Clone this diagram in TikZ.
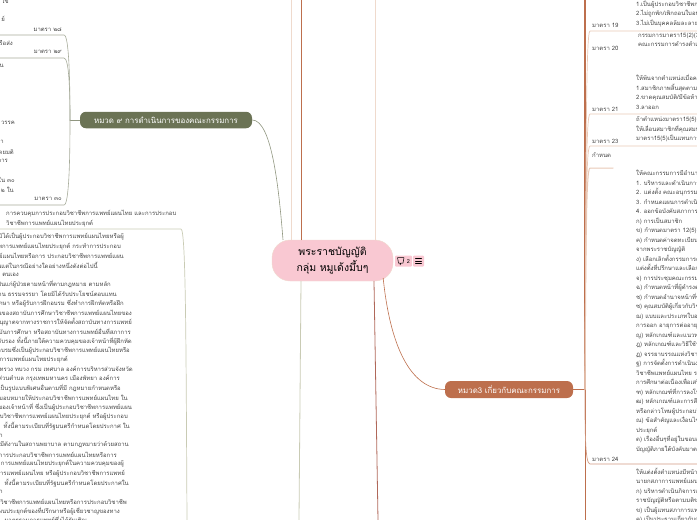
\documentclass[tikz,border=0pt]{standalone}
\usepackage{fontspec}
\setmainfont[Script=Thai]{Loma}
\definecolor{rootpink}{HTML}{F9C8D2}
\definecolor{greenbox}{HTML}{6B7355}
\definecolor{redbox}{HTML}{BD6F4D}
\definecolor{paletan}{HTML}{EFDACD}
\definecolor{paleolive}{HTML}{C9CBB4}
\definecolor{darkred}{HTML}{B0685A}
\definecolor{paleline}{HTML}{E8C8B6}
\definecolor{bodytext}{HTML}{444444}
\tikzset{
  hmuad/.style={rounded corners=6pt, text=white, inner sep=0pt, font=\fontsize{7.9}{9}\selectfont},
  lefttext/.style={anchor=east, inner sep=0pt, text=bodytext, font=\fontsize{5.95}{7}\selectfont},
  blocktext/.style={anchor=north west, inner sep=0pt, align=left, text=bodytext, font=\fontsize{5.95}{9.5}\selectfont},
  tagbox/.style={fill=rootpink, rounded corners=1pt, inner sep=0pt},
  greenline/.style={draw=greenbox!75, line width=.6pt},
  redline/.style={draw=redbox, line width=.6pt},
  subline/.style={draw=paleline, line width=.7pt}
}
\begin{document}
\begin{tikzpicture}[x=1pt, y=-1pt, line cap=round, line join=round]
	\useasboundingbox (0,0) rectangle (697,520);
	\clip (0,0) rectangle (697,520);
	% main nodes
	\node[fill=rootpink, draw=paletan, rounded corners=18pt, minimum width=121pt, minimum height=41pt, inner sep=0pt, align=center, font=\fontsize{10.5}{16}\selectfont] (root) at (332.5,260.5) {พระราชบัญญัติ\\กลุ่ม หมูเด้งมึ้บๆ};
	\node[hmuad, fill=greenbox, minimum width=172pt, minimum height=16.5pt] (hm9) at (166,120) {หมวด ๙ การดำเนินการของคณะกรรมการ};
	\node[hmuad, fill=redbox, minimum width=128pt, minimum height=17pt] (hm3) at (509,389.5) {หมวด3 เกี่ยวกับคณะกรรมการ};
	\node[tagbox, minimum width=17pt, minimum height=11pt] (tagc) at (403.5,261) {};
	\node[tagbox, minimum width=11pt, minimum height=11pt] (tagm) at (418.5,261) {};
	\node[inner sep=0pt, font=\fontsize{5.5}{6}\selectfont] (tagn) at (408.5,261.3) {2};
	\draw[line width=.5pt] (397.5,257.5) -- (404,257.5) -- (403,263) -- (401,263) -- (400,265) -- (400,263) -- (398.5,263) -- cycle;
	\draw[line width=.6pt] (415.5,258.5) -- (421.5,258.5) (415.5,261) -- (421.5,261) (415.5,263.5) -- (421.5,263.5);
	% connectors of the root
	\coordinate (top1) at (291,0);
	\coordinate (top2) at (301,0);
	\coordinate (top3) at (375,0);
	\coordinate (bot1) at (299,520);
	\coordinate (bot2) at (378,520);
	\draw[greenline] (hm9.east) .. controls (272,120) and (279,190) .. ([xshift=-49.5pt]root.north);
	\draw[redline] ([xshift=-10pt,yshift=3pt]root.south east) .. controls (390,345) and (410,389) .. (hm3.west);
	\draw[draw=paletan, line width=.8pt] (top1) -- (top1 |- root.north) (top3) -- (top3 |- root.north);
	\draw[redline] (top2) -- (top2 |- root.north);
	\draw[draw=paleolive, line width=.8pt] ([xshift=-31.5pt]root.south) -- (bot1);
	\draw[draw=darkred, line width=.8pt] ([xshift=41.5pt]root.south) -- (bot2);
	% left side
	\coordinate (lhub) at (70,120);
	\draw[greenline] (hm9.west) -- (lhub);
	\draw[greenline, draw=greenbox!60] (lhub) .. controls (70,80) and (69,35) .. (64,35) -- (0,35);
	\draw[greenline, draw=greenbox!60] (lhub) .. controls (70,90) and (69,58) .. (64,58) -- (0,58);
	\draw[greenline, draw=greenbox!60] (lhub) .. controls (70,160) and (69,205) .. (64,205) -- (0,205);
	\draw[draw=paleolive, line width=.7pt] (187,520) .. controls (186,350) and (186,229) .. (181,229) -- (0,229);
	\foreach \xe/\yl/\txt [count=\i] in {9/1/ไข่,5/19/ย์,62/30/มาตรา ๒๘,13/43/รือส่ง,62/52/มาตรา ๒๙,4/66/าน,15/123/วรรค,4/142/า,14/152/โดยมติ,8/161/การ,15/180/ใน ๓๐,14/190/๒ ใน,62/199/มาตรา ๓๐}
		\node[lefttext] (up\i) at (\xe,\yl) {\txt};
	\node[blocktext, font=\fontsize{5.95}{10}\selectfont] (ctl) at (6,209.5) {การควบคุมการประกอบวิชาชีพการแพทย์แผนไทย และการประกอบ\\วิชาชีพการแพทย์แผนไทยประยุกต์};
	\foreach \xe/\txt [count=\i] in {
		124/ผู้ใดมิได้เป็นผู้ประกอบวิชาชีพการแพทย์แผนไทยหรือผู้,
		121/ชีพการแพทย์แผนไทยประยุกต์ กระทำการประกอบ,
		124/แพทย์แผนไทยหรือการ ประกอบวิชาชีพการแพทย์แผน,
		98/เว้นแต่ในกรณีอย่างใดอย่างหนึ่งดังต่อไปนี้,
		19/ตนเอง,
		111/เป็นแก่ผู้ป่วยตามหน้าที่ตามกฎหมาย ตามหลัก,
		117/ผ่าน ธรรมจรรยา โดยมิได้รับประโยชน์ตอบแทน,
		124/นศึกษา หรือผู้รับการฝึกอบรม ซึ่งทำการฝึกหัดหรือฝึก,
		132/งานของสถาบันการศึกษาวิชาชีพการแพทย์แผนไทยของ,
		132/อนุญาตจากทางราชการให้จัดตั้งสถาบันทางการแพทย์,
		131/สถาบันการศึกษา หรือสถาบันทางการแพทย์อื่นที่สภาการ,
		132/รับรอง ทั้งนี้ภายใต้ความควบคุมของเจ้าหน้าที่ผู้ฝึกหัด,
		130/อบรมซึ่งเป็นผู้ประกอบวิชาชีพการแพทย์แผนไทยหรือ,
		68/การแพทย์แผนไทยประยุกต์,
		133/กระทรวง ทบวง กรม เทศบาล องค์การบริหารส่วนจังหวัด,
		120/ส่วนตำบล กรุงเทพมหานคร เมืองพัทยา องค์การ,
		121/ที่เป็นรูปแบบพิเศษอื่นตามที่มี กฎหมายกำหนดหรือ,
		128/มอบหมายให้ประกอบวิชาชีพการแพทย์แผนไทย ใน,
		132/ของเจ้าหน้าที่ ซึ่งเป็นผู้ประกอบวิชาชีพการแพทย์แผน,
		128/ระกอบวิชาชีพการแพทย์แผนไทยประยุกต์ หรือผู้ประกอบ,
		130/ ทั้งนี้ตามระเบียบที่รัฐมนตรีกำหนดโดยประกาศ ใน,
		3/า,
		129/ผู้มีตังานในสถานพยาบาล ตามกฎหมายว่าด้วยสถาน,
		117/ทำการประกอบวิชาชีพการแพทย์แผนไทยหรือการ,
		124/การแพทย์แผนไทยประยุกต์ในความควบคุมของผู้,
		125/การแพทย์แผนไทย หรือผู้ประกอบวิชาชีพการแพทย์,
		129/ ทั้งนี้ตามระเบียบที่รัฐมนตรีกำหนดโดยประกาศใน,
		3/า,
		127/ระกอบวิชาชีพการแพทย์แผนไทยหรือการประกอบวิชาชีพ,
		120/แผนประยุกต์ของที่ปรึกษาหรือผู้เชี่ยวชาญของทาง,
		87/มาตรฐานการแพทย์ซึ่งได้รับเชิญ}
		\node[lefttext] (bd\i) at (\xe,{237+9.45*(\i-1)}) {\txt};
	% right side
	\coordinate (rhub) at (585,389.5);
	\draw[redline] (hm3.east) -- (rhub);
	\draw[redline, line width=1.2pt] (rhub) -- (585,0);
	\draw[redline, line width=.9pt] (rhub) -- (585,520);
	\draw[subline] (rhub) .. controls (586,150) and (586,31) .. (590,31) -- (697,31);
	\draw[subline] (rhub) .. controls (586,200) and (586,114) .. (590,114) -- (697,114);
	\draw[subline] (rhub) .. controls (586,220) and (586,146) .. (590,146) -- (697,146);
	\draw[subline, line width=1pt] (rhub) .. controls (586,250) and (586,168) .. (590,168) -- (613,168);
	\draw[subline, draw=redbox!70] (rhub) .. controls (585,430) and (585,464) .. (590,464) -- (697,464);
	\foreach \yl/\txt [count=\i] in {25/มาตรา 19,48/มาตรา 20,109/มาตรา 21,141/มาตรา 23,155/กำหนด,459/มาตรา 24}
		\node[lefttext, anchor=west] (mt\i) at (592,\yl) {\txt};
	\node[blocktext] (b19) at (636,0.5) {1.เป็นผู้ประกอบวิชาชีพการแพทย์\\2.ไม่ถูกพัก/เพิกถอนใบอนุญาตฯ\\3.ไม่เป็นบุคคลล้มละลายหรือไร้}; 
	\node[blocktext] (b20) at (638,32.5) {กรรมการมาตรา15(2)(3)(4)\\คณะกรรมการดำรงตำแหน่งไม่เกิน};
	\node[blocktext] (b21) at (636,74.5) {ให้พ้นจากตำแหน่งเมื่อครบวาระ\\1.สมาชิกภาพสิ้นสุดตามมาตรา\\2.ขาดคุณสมบัติ/มีข้อห้ามตาม\\3.ลาออก};
	\node[blocktext] (b23) at (636,116.5) {ถ้าตำแหน่งมาตรา15(5)ว่างลง\\ให้เลื่อนสมาชิกที่คุณสมบัติครบ\\มาตรา15(5)เป็นแทนการเลือกตั้ง};
	\node[blocktext] (b24) at (636,169.5) {ให้คณะกรรมการมีอำนาจหน้าที่\\1. บริหารและดำเนินการตามพระ\\2. แต่งตั้ง คณะอนุกรรมการเพื่อ\\3. กำหนดแผนการดำเนินงานของ\\4. ออกข้อบังคับสภาการแพทย์\\ก) การเป็นสมาชิก\\ข) กำหนดมาตรา 12(5) ตาม\\ค) กำหนดค่าจดทะเบียนและค่า\\จากพระราชบัญญัติ\\ง) เลือกเลิกตั้งกรรมการตามมาตรา\\แต่งตั้งที่ปรึกษาและเลือกอนุ\\จ) การประชุมคณะกรรมการและ\\ฉ) กำหนดหน้าที่ผู้ดำรงตำแหน่ง\\ช) กำหนดอำนาจหน้าที่ของคณะ\\ซ) คุณสมบัติผู้เกี่ยวกับวิชาชีพ\\ฌ) แบบและประเภทใบอนุญาตและ\\การออก อายุการต่ออายุใบอนุญาต\\ญ) หลักเกณฑ์และแนวทางการเรียน\\ฎ) หลักเกณฑ์และวิธีใช้ประกาศ\\ฏ) จรรยาบรรณแห่งวิชาชีพการ\\ฐ) การจัดตั้งการดำเนินงานของ\\วิชาชีพแพทย์แผนไทย รวมทั้ง\\การศึกษาต่อเนื่องเพื่อเสริมความ\\ฑ) หลักเกณฑ์ที่การลงโทษผู้ประกอบ\\ฒ) หลักเกณฑ์และการสืบสวนการ\\หรือกล่าวโทษผู้ประกอบวิชาชีพ\\ณ) ข้อสำคัญและเงื่อนไขการแพทย์\\ประยุกต์\\ด) เรื่องอื่นๆที่อยู่ในขอบอำนาจ\\บัญญัติภายใต้บังคับมาตราพระ};
	\node[blocktext] (b25) at (636,467.5) {ให้แต่งตั้งตำแหน่งมีหน้าที่ดังนี้\\นายกสภาการแพทย์แผนไทยมี\\ก) บริหารดำเนินกิจการสภาตาม\\ราชบัญญัติหรือตามมติของคณะ\\ข) เป็นผู้แทนสภาการแพทย์ใน\\ค) เป็นประธานเกี่ยวกับการประชุม};
\end{tikzpicture}
\end{document}
